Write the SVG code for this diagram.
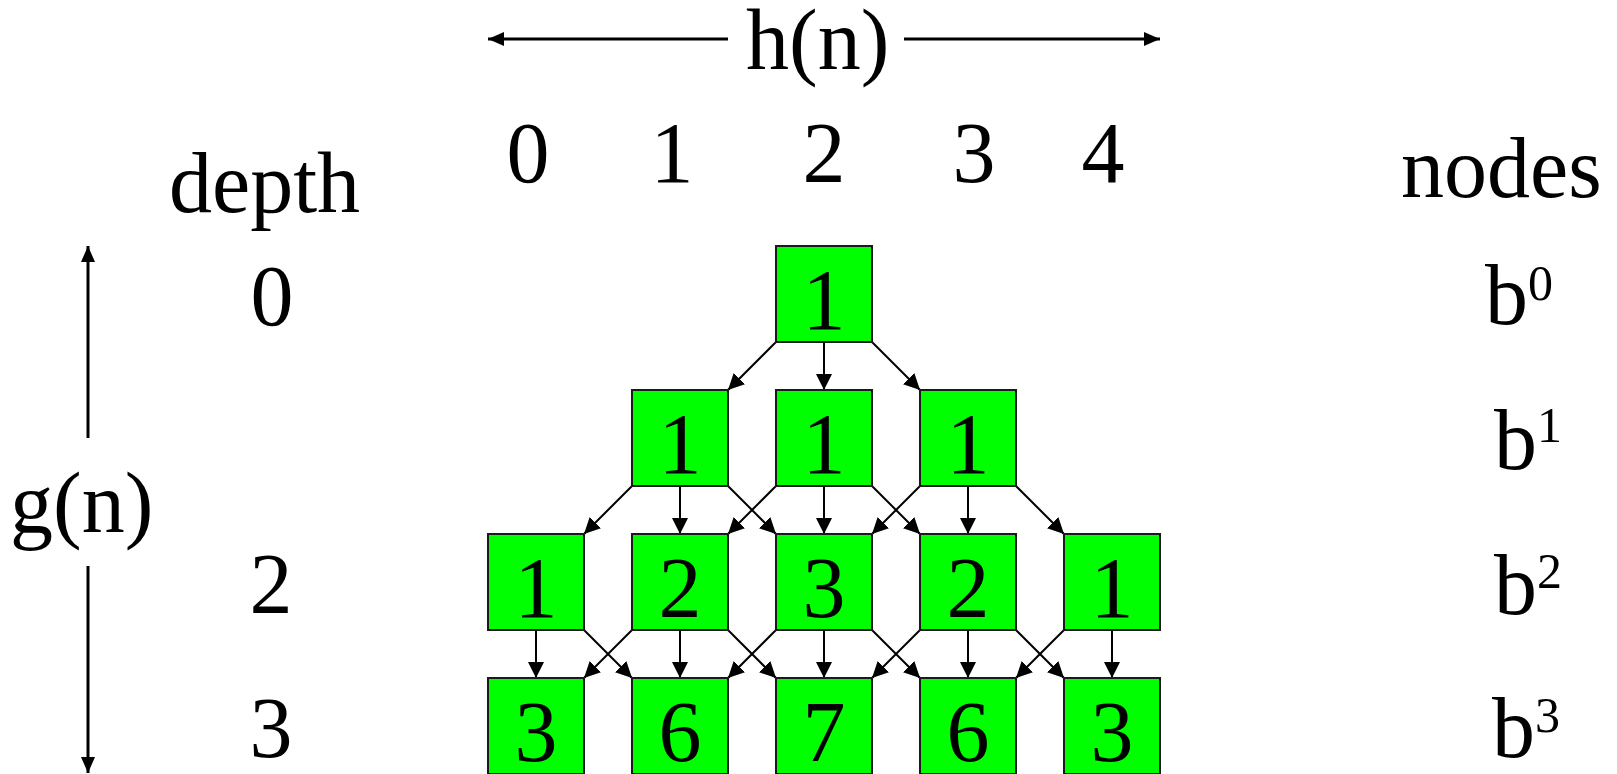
<svg xmlns="http://www.w3.org/2000/svg" width="1617" height="774" viewBox="0 0 1617 774">
<style>
.t{font-family:"Liberation Serif","Times New Roman",serif;font-size:86px;fill:#000}
.m{text-anchor:middle}
.sup{font-size:50px}
.box{fill:#00ff00;stroke:#1a1a1a;stroke-width:2}
.c{stroke:#000;stroke-width:2;fill:none;marker-end:url(#ah)}
.ax{stroke:#000;stroke-width:3;fill:none;marker-end:url(#ax)}
</style>
<defs>
<marker id="ah" markerUnits="userSpaceOnUse" markerWidth="16" markerHeight="16" refX="16" refY="8" orient="auto">
<path d="M0,0 L16,8 L0,16 z" fill="#000"/>
</marker>
<marker id="ax" markerUnits="userSpaceOnUse" markerWidth="16" markerHeight="14" refX="16" refY="7" orient="auto">
<path d="M0,0 L16,7 L0,14 z" fill="#000"/>
</marker>
</defs>
<g id="axes">
<line class="ax" x1="728" y1="39" x2="488" y2="39"/>
<line class="ax" x1="904" y1="39" x2="1160" y2="39"/>
<line class="ax" x1="88" y1="438" x2="88" y2="246"/>
<line class="ax" x1="88" y1="566" x2="88" y2="773"/>
</g>
<g id="labels">
<text class="t" x="746" y="69">h(n)</text>
<text class="t" x="10" y="532">g(n)</text>
<text class="t" x="169" y="212">depth</text>
<text class="t" x="1401" y="197">nodes</text>
<text class="t m" x="528" y="182">0</text>
<text class="t m" x="672" y="182">1</text>
<text class="t m" x="824" y="182">2</text>
<text class="t m" x="974" y="182">3</text>
<text class="t m" x="1103" y="182">4</text>
<text class="t m" x="272" y="325">0</text>
<text class="t m" x="271" y="613">2</text>
<text class="t m" x="271" y="757">3</text>
<text class="t" x="1485" y="324">b<tspan class="sup" dy="-24">0</tspan></text>
<text class="t" x="1494" y="469">b<tspan class="sup" dy="-27">1</tspan></text>
<text class="t" x="1494" y="614">b<tspan class="sup" dy="-26">2</tspan></text>
<text class="t" x="1492" y="757">b<tspan class="sup" dy="-25">3</tspan></text>
</g>
<g id="connectors">
<line class="c" x1="776" y1="342" x2="728" y2="390"/>
<line class="c" x1="824" y1="342" x2="824" y2="390"/>
<line class="c" x1="872" y1="342" x2="920" y2="390"/>
<line class="c" x1="632" y1="486" x2="584" y2="534"/>
<line class="c" x1="680" y1="486" x2="680" y2="534"/>
<line class="c" x1="728" y1="486" x2="776" y2="534"/>
<line class="c" x1="776" y1="486" x2="728" y2="534"/>
<line class="c" x1="824" y1="486" x2="824" y2="534"/>
<line class="c" x1="872" y1="486" x2="920" y2="534"/>
<line class="c" x1="920" y1="486" x2="872" y2="534"/>
<line class="c" x1="968" y1="486" x2="968" y2="534"/>
<line class="c" x1="1016" y1="486" x2="1064" y2="534"/>
<line class="c" x1="536" y1="630" x2="536" y2="678"/>
<line class="c" x1="584" y1="630" x2="632" y2="678"/>
<line class="c" x1="632" y1="630" x2="584" y2="678"/>
<line class="c" x1="680" y1="630" x2="680" y2="678"/>
<line class="c" x1="728" y1="630" x2="776" y2="678"/>
<line class="c" x1="776" y1="630" x2="728" y2="678"/>
<line class="c" x1="824" y1="630" x2="824" y2="678"/>
<line class="c" x1="872" y1="630" x2="920" y2="678"/>
<line class="c" x1="920" y1="630" x2="872" y2="678"/>
<line class="c" x1="968" y1="630" x2="968" y2="678"/>
<line class="c" x1="1016" y1="630" x2="1064" y2="678"/>
<line class="c" x1="1064" y1="630" x2="1016" y2="678"/>
<line class="c" x1="1112" y1="630" x2="1112" y2="678"/>
</g>
<g id="n0_2"><rect class="box" x="776" y="246" width="96" height="96"/><text class="t m" x="824" y="329">1</text></g>
<g id="n1_1"><rect class="box" x="632" y="390" width="96" height="96"/><text class="t m" x="680" y="473">1</text></g>
<g id="n1_2"><rect class="box" x="776" y="390" width="96" height="96"/><text class="t m" x="824" y="473">1</text></g>
<g id="n1_3"><rect class="box" x="920" y="390" width="96" height="96"/><text class="t m" x="968" y="473">1</text></g>
<g id="n2_0"><rect class="box" x="488" y="534" width="96" height="96"/><text class="t m" x="536" y="617">1</text></g>
<g id="n2_1"><rect class="box" x="632" y="534" width="96" height="96"/><text class="t m" x="680" y="617">2</text></g>
<g id="n2_2"><rect class="box" x="776" y="534" width="96" height="96"/><text class="t m" x="824" y="617">3</text></g>
<g id="n2_3"><rect class="box" x="920" y="534" width="96" height="96"/><text class="t m" x="968" y="617">2</text></g>
<g id="n2_4"><rect class="box" x="1064" y="534" width="96" height="96"/><text class="t m" x="1112" y="617">1</text></g>
<g id="n3_0"><rect class="box" x="488" y="678" width="96" height="96"/><text class="t m" x="536" y="761">3</text></g>
<g id="n3_1"><rect class="box" x="632" y="678" width="96" height="96"/><text class="t m" x="680" y="761">6</text></g>
<g id="n3_2"><rect class="box" x="776" y="678" width="96" height="96"/><text class="t m" x="824" y="761">7</text></g>
<g id="n3_3"><rect class="box" x="920" y="678" width="96" height="96"/><text class="t m" x="968" y="761">6</text></g>
<g id="n3_4"><rect class="box" x="1064" y="678" width="96" height="96"/><text class="t m" x="1112" y="761">3</text></g>
</svg>
